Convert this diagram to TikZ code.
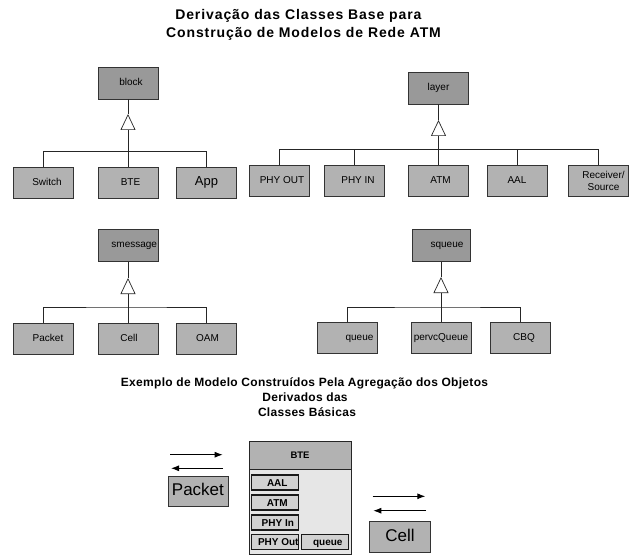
\documentclass[tikz,border=0pt]{standalone}
\usepackage{fontspec}
\setmainfont{Liberation Sans}
\newfontfamily\titlefontA[LetterSpace=6.5]{Liberation Sans}
\newfontfamily\titlefontB[LetterSpace=2.5]{Liberation Sans}
\usetikzlibrary{arrows.meta}
\definecolor{pgray}{HTML}{999999}
\definecolor{cgray}{HTML}{B2B2B2}
\definecolor{bgray}{HTML}{E6E6E6}
\definecolor{igray}{HTML}{D2D2D2}
\definecolor{lgray}{HTML}{333333}
\begin{document}
\begin{tikzpicture}[x=1pt,y=-1pt,
  every node/.style={inner sep=0pt},
  basebox/.style={draw=lgray, line width=0.8pt, minimum width=60pt, minimum height=31pt, font=\fontsize{10}{11.5}\selectfont},
  clsbox/.style={basebox, text height=7.2pt, text depth=2pt},
  parentbox/.style={clsbox, fill=pgray, minimum height=32pt},
  childbox/.style={clsbox, fill=cgray},
  ts/.style={execute at begin node={\hspace*{#1}}},
  tree/.style={draw=black!85, line width=0.7pt},
  inherit/.style={tree, -{Triangle[open, fill=white, length=16pt, width=15pt]}},
  innerbox/.style={draw=black!90, line width=1.3pt, fill=igray, minimum width=47pt, minimum height=15pt, text height=7pt, text depth=0pt, font=\bfseries\fontsize{10}{11}\selectfont},
  msg/.style={draw=black, line width=0.9pt, -{Latex[length=8pt,width=6pt]}},
  ttlA/.style={anchor=base, font=\titlefontA\bfseries\fontsize{14}{16}\selectfont},
  ttlB/.style={anchor=base, font=\titlefontB\bfseries\fontsize{12}{14}\selectfont}
]
\useasboundingbox (0,0) rectangle (632,556);

% titles
\node[ttlA] (t1) at (298.4,20) {Derivação das Classes Base para};
\node[ttlA] (t2) at (303.5,37.5) {Construção de Modelos de Rede ATM};

% block tree
\node[parentbox, ts=6pt] (block) at (128,83) {block};
\node[childbox, ts=7pt] (switch) at (43.5,182.5) {Switch};
\node[childbox, ts=5pt] (bte) at (128,182.5) {BTE};
\node[childbox, font=\fontsize{13}{15}\selectfont, text height=9.4pt, text depth=2.7pt] (app) at (206.5,182.5) {App};
\coordinate (blockTip) at (128,114);
\coordinate (blockBar) at (128,151.5);
\draw[tree] (block) -- (blockTip);
\draw[inherit] (blockBar) -- (blockTip);
\draw[tree] (switch.north) |- (blockBar) -| (app.north);
\draw[tree] (bte) -- (blockBar);

% layer tree
\node[parentbox] (layer) at (438.5,88) {layer};
\node[childbox, ts=6pt] (phyout) at (279,180.75) {PHY OUT};
\node[childbox, ts=7pt] (phyin) at (354.5,180.75) {PHY IN};
\node[childbox, ts=4pt] (atm) at (438.5,180.75) {ATM};
\node[childbox] (aal) at (517,180.75) {AAL};
\node[basebox, fill=cgray, align=center] (recv) at (598.5,180.75) {\hspace*{10pt}Receiver/\\\hspace*{10pt}Source};
\coordinate (layerTip) at (438.5,120);
\coordinate (layerBar) at (438.5,149.3);
\draw[tree] (layer) -- (layerTip);
\draw[inherit] (layerBar) -- (layerTip);
\draw[tree] (phyout.north) |- (layerBar) -| (recv.north);
\draw[tree] (phyin.north) -- (phyin.north |- layerBar);
\draw[tree] (atm) -- (layerBar);
\draw[tree] (aal.north) -- (aal.north |- layerBar);

% smessage tree
\node[parentbox, text width=58pt, align=right] (smsg) at (128,245.3) {smessage};
\node[childbox, ts=9pt] (packet) at (43.5,338.5) {Packet};
\node[childbox, ts=2pt] (cell) at (128,338.5) {Cell};
\node[childbox, ts=2pt] (oam) at (206.5,338.5) {OAM};
\coordinate (smsgTip) at (128,278);
\coordinate (smsgBar) at (128,307);
\draw[tree] (smsg) -- (smsgTip);
\draw[inherit] (smsgBar) -- (smsgTip);
\draw[tree] (packet.north) |- (smsgBar) -| (oam.north);
\draw[tree] (cell) -- (smsgBar);

% squeue tree
\node[parentbox, minimum width=58pt, ts=12pt] (squeue) at (441,245.3) {squeue};
\node[childbox, ts=24pt] (queue) at (347.5,338) {queue};
\node[childbox] (pervc) at (441,338) {pervcQueue};
\node[childbox, ts=8pt] (cbq) at (520,338) {CBQ};
\coordinate (squeueTip) at (441,277);
\coordinate (squeueBar) at (441,307);
\draw[tree] (squeue) -- (squeueTip);
\draw[inherit] (squeueBar) -- (squeueTip);
\draw[tree] (queue.north) |- (squeueBar) -| (cbq.north);
\draw[tree] (pervc) -- (squeueBar);

% second title
\node[ttlB] (b1) at (304.5,386.3) {Exemplo de Modelo Construídos Pela Agregação dos Objetos};
\node[ttlB] (b2) at (305,401.7) {Derivados das};
\node[ttlB] (b3) at (307,416.7) {Classes Básicas};

% BTE composite
\node[draw=black!85, line width=1pt, fill=cgray, minimum width=102pt, minimum height=27.3pt, font=\bfseries\fontsize{9.5}{11}\selectfont] (bteHead) at (300,455.35) {BTE};
\node[draw=black!85, line width=1pt, fill=bgray, minimum width=102pt, minimum height=85pt] (bteBody) at (300,511.5) {};
\node[innerbox, ts=4pt] (iAAL) at (275.3,482.5) {AAL};
\node[innerbox, ts=4pt] (iATM) at (275.3,502.5) {ATM};
\node[innerbox, ts=5pt] (iPHYin) at (275.3,522.5) {PHY In};
\node[innerbox, ts=6pt] (iPHYout) at (275.3,542) {PHY Out};
\node[innerbox, ts=5pt] (iQueue) at (325.3,542.3) {queue};

% Packet and Cell
\node[childbox, minimum height=30.7pt, font=\fontsize{17}{20}\selectfont, text height=12.3pt, text depth=3.5pt] (pkt) at (197.9,491.3) {Packet};
\coordinate (pA1) at (170,454.7);
\coordinate (pA2) at (222.7,454.7);
\coordinate (pB1) at (223,468.3);
\coordinate (pB2) at (171,468.3);
\draw[msg] (pA1) -- (pA2);
\draw[msg] (pB1) -- (pB2);

\node[childbox, minimum width=61.4pt, minimum height=31.4pt, font=\fontsize{17}{20}\selectfont, text height=12.3pt, text depth=3.5pt] (cellB) at (400,537) {Cell};
\coordinate (cA1) at (372.7,496.3);
\coordinate (cA2) at (425.3,496.3);
\coordinate (cB1) at (426,510.7);
\coordinate (cB2) at (373.3,510.7);
\draw[msg] (cA1) -- (cA2);
\draw[msg] (cB1) -- (cB2);
\end{tikzpicture}
\end{document}
